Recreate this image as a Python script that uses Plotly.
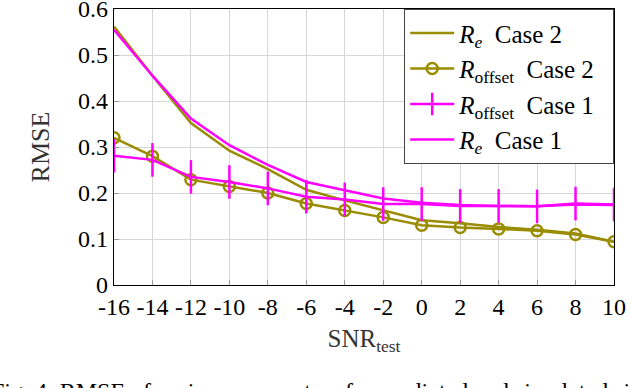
import plotly.graph_objects as go

# SNR_test values and tick labels
snr = [-16, -14, -12, -10, -8, -6, -4, -2, 0, 2, 4, 6, 8, 10]
snr_labels = ["-16", "-14", "-12", "-10", "-8", "-6", "-4", "-2", "0", "2", "4", "6", "8", "10"]
rmse_ticks = [0, 0.1, 0.2, 0.3, 0.4, 0.5, 0.6]
rmse_labels = ["0", "0.1", "0.2", "0.3", "0.4", "0.5", "0.6"]

re_case2 = [0.562, 0.455, 0.352, 0.292, 0.252, 0.207, 0.184, 0.163, 0.141, 0.134, 0.126, 0.120, 0.112, 0.094]
roffset_case2 = [0.320, 0.280, 0.229, 0.214, 0.200, 0.177, 0.162, 0.147, 0.130, 0.125, 0.122, 0.118, 0.110, 0.094]
roffset_case1 = [0.281, 0.272, 0.235, 0.224, 0.210, 0.192, 0.186, 0.176, 0.176, 0.172, 0.172, 0.171, 0.177, 0.175]
re_case1 = [0.555, 0.455, 0.362, 0.304, 0.261, 0.224, 0.206, 0.188, 0.179, 0.174, 0.172, 0.171, 0.175, 0.174]

OLIVE = "#9a8c00"
MAGENTA = "#ff00ff"
FONT = "Liberation Serif"
PAD = "&nbsp;&nbsp;"

fig = go.Figure()
fig.add_trace(go.Scatter(x=snr, y=re_case2, mode="lines", name="<i>R<sub>e</sub></i>  Case 2" + PAD,
                         line=dict(color=OLIVE, width=2.5)))
fig.add_trace(go.Scatter(x=snr, y=roffset_case2, mode="lines+markers", name="<i>R</i><sub>offset</sub>  Case 2" + PAD,
                         line=dict(color=OLIVE, width=2.5),
                         marker=dict(symbol="circle-open", size=11, color=OLIVE, line=dict(width=2.5, color=OLIVE))))
fig.add_trace(go.Scatter(x=snr, y=roffset_case1, mode="lines+markers", name="<i>R</i><sub>offset</sub>  Case 1" + PAD,
                         line=dict(color=MAGENTA, width=2.5),
                         marker=dict(symbol="line-ns", size=24, color=MAGENTA, line=dict(width=2.5, color=MAGENTA))))
fig.add_trace(go.Scatter(x=snr, y=re_case1, mode="lines", name="<i>R<sub>e</sub></i>  Case 1" + PAD,
                         line=dict(color=MAGENTA, width=2.5)))

axis_common = dict(showline=True, linecolor="black", linewidth=1.2, mirror=True,
                   showgrid=True, gridcolor="#d6d6d6", gridwidth=1, zeroline=False,
                   ticks="inside", ticklen=5, tickcolor="#999999", automargin=False,
                   ticklabeloverflow="allow",
                   tickfont=dict(family=FONT, size=24, color="black"))

fig.update_xaxes(range=[-16, 10], tickvals=snr, ticktext=snr_labels,
                 title=dict(text="SNR<sub>test</sub>", font=dict(family=FONT, size=25, color="#333333"), standoff=10),
                 **axis_common)
fig.update_yaxes(range=[0, 0.6], tickvals=rmse_ticks, ticktext=rmse_labels,
                 title=dict(text="RMSE", font=dict(family=FONT, size=26, color="#333333"), standoff=20),
                 **axis_common)

fig.add_annotation(text="Fig. 4: RMSE of various parameters for predicted and simulated signals d",
                   xref="paper", yref="paper", x=-0.25, y=-0.33, xanchor="left", yanchor="top",
                   showarrow=False, font=dict(family=FONT, size=24, color="black"))

fig.update_layout(
    width=630, height=388,
    margin=dict(l=114, r=16, t=9, b=103),
    plot_bgcolor="white", paper_bgcolor="white",
    font=dict(family=FONT, color="black"),
    legend=dict(x=1, y=1, xanchor="right", yanchor="top",
                bgcolor="white", bordercolor="#444444", borderwidth=1.2,
                font=dict(family=FONT, size=25, color="black"),
                tracegroupgap=0, itemwidth=44),
    showlegend=True,
)

# page body has a default 8px margin; remove it so the figure sits at the window corner
fig.write_html("out.html", config={"displayModeBar": False},
               post_script="document.body.style.margin='0px';")
